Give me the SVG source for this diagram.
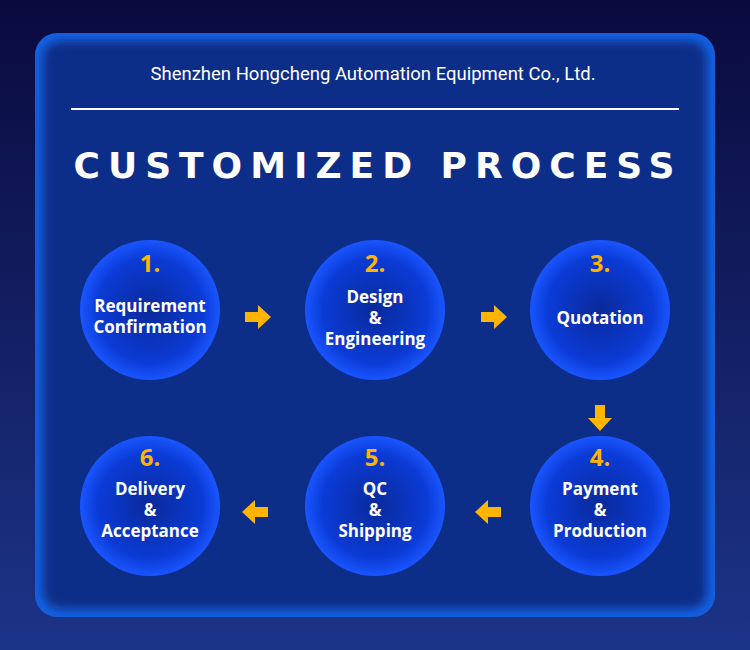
<svg xmlns="http://www.w3.org/2000/svg" width="750" height="650" viewBox="0 0 750 650">
<defs>
<linearGradient id="bg" x1="0" y1="0" x2="0" y2="1"><stop offset="0" stop-color="#0a0a3e"/><stop offset="1" stop-color="#1c3488"/></linearGradient>
<radialGradient id="cg" cx="0.5" cy="0.5" r="0.5"><stop offset="0" stop-color="#0a2a9a"/><stop offset="0.75" stop-color="#0b3bd6"/><stop offset="1" stop-color="#1a55ff"/></radialGradient>
<filter id="blur" x="-5%" y="-5%" width="110%" height="110%"><feGaussianBlur stdDeviation="4"/></filter>
<path id="ar" d="M-13,-5 H0 V-12 L13,0 L0,12 V5 H-13 Z" fill="#ffb400"/>
<style>
.n{font-family:"Open Sans","Liberation Sans",sans-serif;font-weight:700;font-size:24px;fill:#ffb400;text-anchor:middle}
.l{font-family:"Open Sans","Liberation Sans",sans-serif;font-weight:700;font-size:17px;fill:#fff;text-anchor:middle}
</style>
</defs>
<rect width="750" height="650" fill="url(#bg)"/>
<rect x="35" y="33" width="680" height="584" rx="22" fill="#1560e0"/>
<rect x="43" y="41" width="664" height="568" rx="18" fill="#0a2f88" filter="url(#blur)"/>
<text x="373" y="80" font-family="Roboto,'Liberation Sans',sans-serif" font-size="18.5" fill="#fff" text-anchor="middle">Shenzhen Hongcheng Automation Equipment Co., Ltd.</text>
<line x1="71" y1="109" x2="679" y2="109" stroke="#fff" stroke-width="2"/>
<text x="378" y="178" font-family="'DejaVu Sans','Liberation Sans',sans-serif" font-weight="700" font-size="36" letter-spacing="8" fill="#fff" text-anchor="middle">CUSTOMIZED PROCESS</text>
<g id="n1"><circle cx="150" cy="310" r="70" fill="url(#cg)"/><text class="n" x="150" y="272">1.</text><text class="l" x="150" y="312">Requirement</text><text class="l" x="150" y="333">Confirmation</text></g>
<g id="n2"><circle cx="375" cy="310" r="70" fill="url(#cg)"/><text class="n" x="375" y="272">2.</text><text class="l" x="375" y="303">Design</text><text class="l" x="375" y="324">&amp;</text><text class="l" x="375" y="345">Engineering</text></g>
<g id="n3"><circle cx="600" cy="310" r="70" fill="url(#cg)"/><text class="n" x="600" y="272">3.</text><text class="l" x="600" y="324">Quotation</text></g>
<g id="n4"><circle cx="600" cy="506" r="70" fill="url(#cg)"/><text class="n" x="600" y="466">4.</text><text class="l" x="600" y="495">Payment</text><text class="l" x="600" y="516">&amp;</text><text class="l" x="600" y="537">Production</text></g>
<g id="n5"><circle cx="375" cy="506" r="70" fill="url(#cg)"/><text class="n" x="375" y="466">5.</text><text class="l" x="375" y="495">QC</text><text class="l" x="375" y="516">&amp;</text><text class="l" x="375" y="537">Shipping</text></g>
<g id="n6"><circle cx="150" cy="506" r="70" fill="url(#cg)"/><text class="n" x="150" y="466">6.</text><text class="l" x="150" y="495">Delivery</text><text class="l" x="150" y="516">&amp;</text><text class="l" x="150" y="537">Acceptance</text></g>
<g id="connectors">
<use href="#ar" transform="translate(258,317)"/>
<use href="#ar" transform="translate(494,317)"/>
<use href="#ar" transform="translate(600,418) rotate(90)"/>
<use href="#ar" transform="translate(488,512) rotate(180)"/>
<use href="#ar" transform="translate(255,512) rotate(180)"/>
</g>
</svg>
